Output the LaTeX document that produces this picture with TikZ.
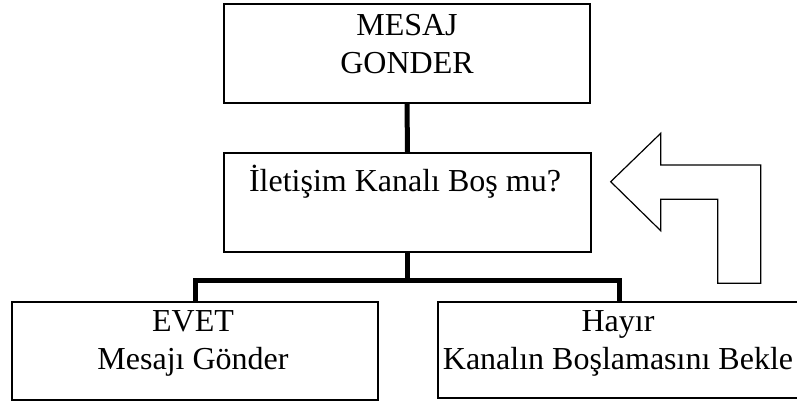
\documentclass[tikz,border=0pt]{standalone}
\usepackage{fontspec}
\setmainfont{Liberation Serif}
\begin{document}
\begin{tikzpicture}[x=1pt,y=-1pt,
  box/.style={draw=black,line width=1.3pt,fill=white,inner sep=0pt},
  label/.style={inner sep=0pt,anchor=base,font=\fontsize{32}{38}\selectfont},
  conn/.style={line width=5pt},
  turnarrow/.style={draw=black,line width=1.2pt,line join=miter,fill=white}]
  \useasboundingbox (0,0) rectangle (797,405);
  \clip (0,0) rectangle (797,405);

  % boxes
  \node[box,minimum width=366pt,minimum height=99pt] (send) at (407,53.5) {};
  \node[box,minimum width=367pt,minimum height=99pt] (check) at (407.5,202.5) {};
  \node[box,minimum width=366pt,minimum height=98pt] (yes) at (195,351) {};
  \node[box,minimum width=362pt,minimum height=96pt] (no) at (619,350) {};

  % box texts
  \node[label] (sendtext) at (407,35)
    {\begin{tabular}[t]{@{}c@{}}MESAJ\\GONDER\end{tabular}};
  \node[label] (checktext) at (405,191) {İletişim Kanalı Boş mu?};
  \node[label] (yestext) at (193,331.5)
    {\begin{tabular}[t]{@{}c@{}}EVET\\Mesajı Gönder\end{tabular}};
  \node[label] (notext) at (618,331.5)
    {\begin{tabular}[t]{@{}c@{}}Hayır\\Kanalın Boşlamasını Bekle\end{tabular}};

  % connectors
  \coordinate (split) at (407.5,280);
  \draw[conn] (send.south) -- (check.north);
  \draw[conn] (check.south) -- (split);
  \draw[conn] (yes.north) |- (split) -| (no.north);

  % bent return arrow
  \draw[turnarrow] (610.7,181.7) -- (660.7,133.3) -- (660.7,165) -- (760.7,165)
    -- (760.7,283.3) -- (717.7,283.3) -- (717.7,199.3) -- (660.7,199.3)
    -- (660.7,230.7) -- cycle;
\end{tikzpicture}
\end{document}
